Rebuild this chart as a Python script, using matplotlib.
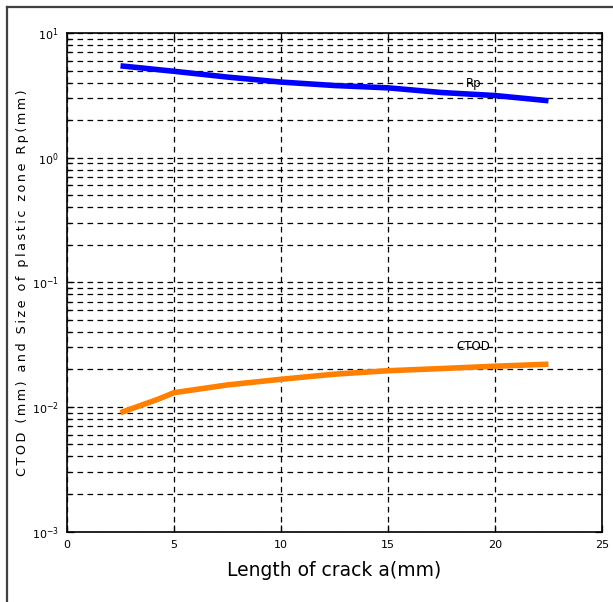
import matplotlib
matplotlib.use("Agg")
import matplotlib.pyplot as plt
from matplotlib.lines import Line2D
from matplotlib.ticker import LogLocator, NullFormatter

# crack length a (mm) and the two computed quantities
crack_len = [2.5, 3.5, 4.25, 5.0, 7.5, 10.0, 12.5, 15.0, 17.5, 20.0, 22.5]
rp_mm = [5.45, 5.24, 5.08, 4.93, 4.43, 4.04, 3.79, 3.63, 3.33, 3.15, 2.86]
ctod_mm = [0.00898, 0.01035, 0.0115, 0.0130, 0.0150, 0.01665, 0.0183, 0.0195,
           0.0203, 0.0212, 0.0220]

x_ticks = [0, 5, 10, 15, 20, 25]

W, H = 613, 602
fig = plt.figure(figsize=(W / 100, H / 100), dpi=100)
fig.patch.set_facecolor("white")
ax = fig.add_axes([67 / W, 1 - 531.5 / H, (602 - 67) / W, (531.5 - 33) / H])

ax.plot(crack_len, rp_mm, color="#0000ff", lw=4.0, solid_capstyle="butt")
ax.plot(crack_len, ctod_mm, color="#ff8000", lw=4.0, solid_capstyle="butt")

ax.set_yscale("log")
ax.set_xlim(0, 25)
ax.set_ylim(1e-3, 1e1)
ax.set_xticks(x_ticks)
ax.yaxis.set_major_locator(LogLocator(base=10, numticks=10))
ax.yaxis.set_minor_locator(LogLocator(base=10, subs=range(2, 10), numticks=20))
ax.yaxis.set_minor_formatter(NullFormatter())

dash = (0, (4.5, 3.5))
ax.grid(True, which="major", axis="both", color="black", lw=0.9, linestyle=dash)
ax.grid(True, which="minor", axis="y", color="black", lw=0.9, linestyle=dash)

ax.tick_params(which="both", direction="in", top=True, right=True, labelsize=8,
               colors="black", pad=6)
ax.tick_params(which="major", length=5, width=0.9)
ax.tick_params(which="minor", length=3, width=0.9)
for s in ax.spines.values():
    s.set_linewidth(1.2)

ax.text(19.0, 3.9, "Rp", fontsize=8.5, ha="center", va="center")
ax.text(19.0, 0.0304, "CTOD", fontsize=8.5, ha="center", va="center")

ax.set_xlabel("Length of crack a(mm)", fontsize=13.5, labelpad=8)
ylab = "CTOD (mm) and Size of plastic zone Rp(mm)"
ax.set_ylabel("\u2009".join(ylab), fontsize=9.2, labelpad=2)

# outer window frame
fig.add_artist(Line2D([7 / W, 7 / W], [0, 1 - 7 / H], color="#404040", lw=1.6,
                      transform=fig.transFigure))
fig.add_artist(Line2D([7 / W, 1], [1 - 7 / H, 1 - 7 / H], color="#404040", lw=1.6,
                      transform=fig.transFigure))

fig.savefig("out.png", dpi=100, facecolor="white")
